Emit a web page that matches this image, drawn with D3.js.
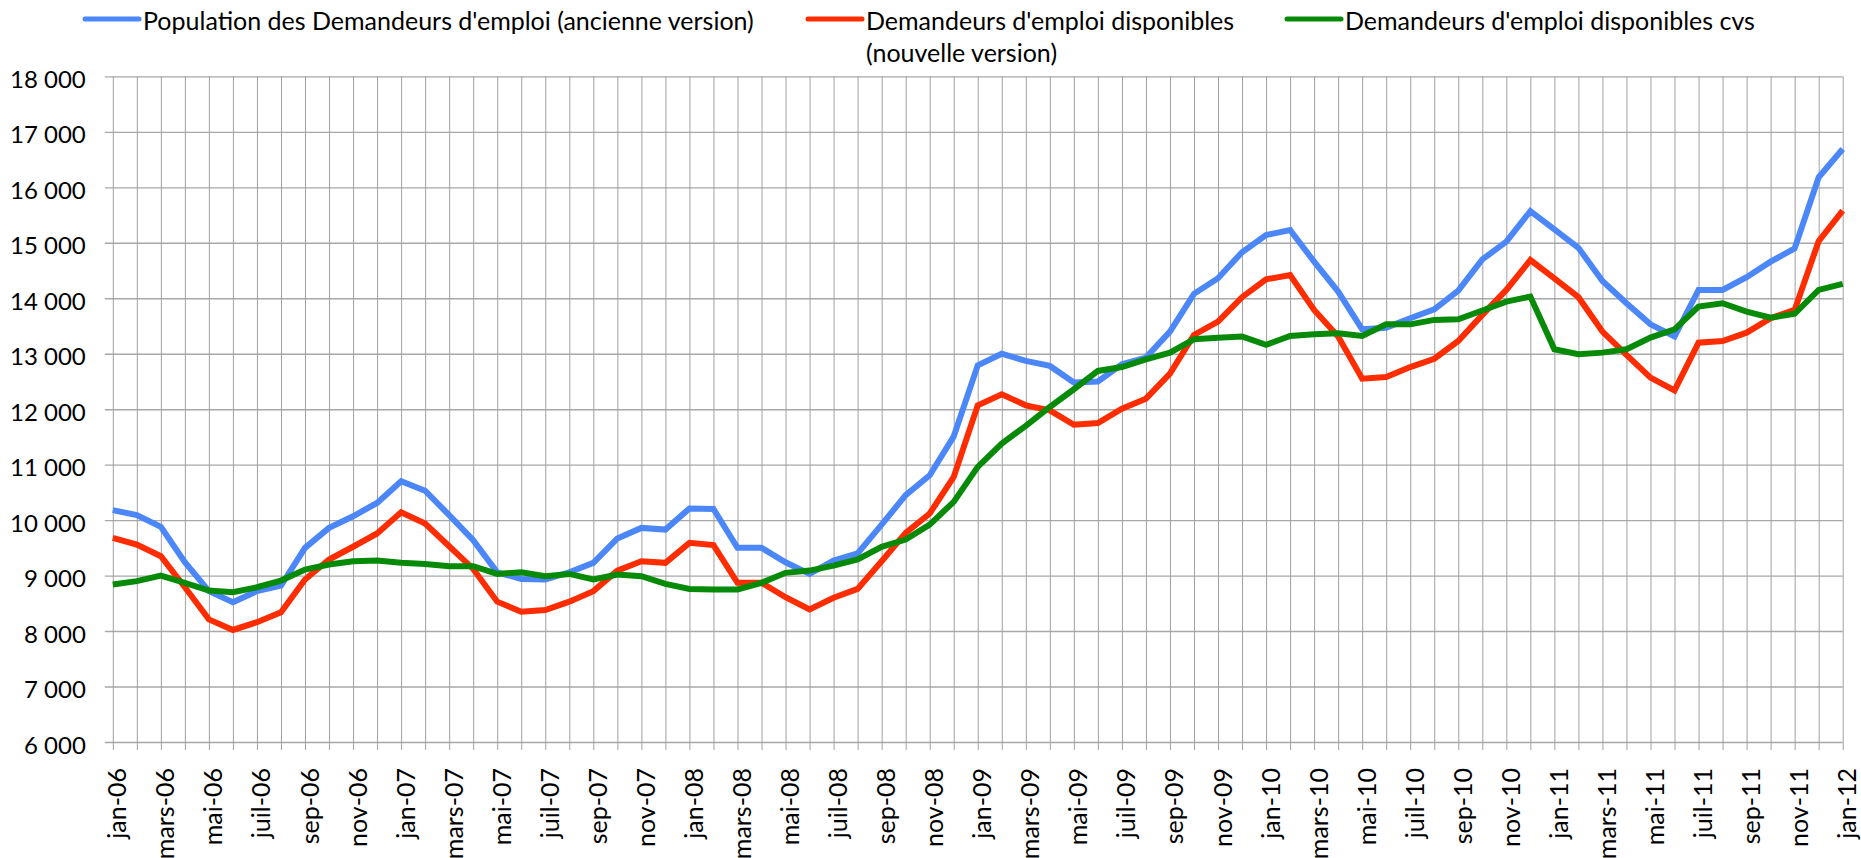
<!DOCTYPE html>
<html>
<head>
<meta charset="utf-8">
<script src="https://cdn.jsdelivr.net/npm/d3@7"></script>
<style>
    body { margin: 0; background: #fff; }
    svg { display: block; font-family: Lato, "Noto Sans", sans-serif; }
</style>
</head>
<body>
<svg id="chart"></svg>
<script>
// month labels (only every other one is printed on the axis)
const monthNames = ['jan', 'févr', 'mars', 'avr', 'mai', 'juin', 'juil', 'août', 'sep', 'oct', 'nov', 'déc'];
const years = ['06', '07', '08', '09', '10', '11', '12'];
const months = [];
years.forEach(y => monthNames.forEach(m => months.push(m + '-' + y)));
months.length = 73; // jan-06 .. jan-12

const yTicks = [6000, 7000, 8000, 9000, 10000, 11000, 12000, 13000, 14000, 15000, 16000, 17000, 18000];

const ancienne = [10180, 10090, 9880, 9240, 8720, 8520, 8720, 8820, 9500, 9860, 10070, 10310,
    10700, 10530, 10090, 9640, 9060, 8940, 8930, 9060, 9230, 9670, 9860, 9830,
    10210, 10200, 9500, 9500, 9240, 9030, 9270, 9400, 9920, 10450, 10810, 11510,
    12790, 13000, 12870, 12780, 12480, 12500, 12810, 12930, 13400, 14080, 14360, 14830,
    15140, 15230, 14660, 14120, 13440, 13470, 13640, 13800, 14140, 14700, 15020, 15570,
    15240, 14910, 14310, 13910, 13530, 13310, 14150, 14150, 14380, 14660, 14900, 16180,
    16690];
const nouvelle = [9680, 9560, 9350, 8790, 8210, 8020, 8160, 8340, 8930, 9290, 9520, 9760,
    10140, 9940, 9530, 9120, 8530, 8350, 8380, 8530, 8720, 9090, 9260, 9230,
    9590, 9550, 8870, 8870, 8610, 8390, 8600, 8760, 9260, 9770, 10120, 10780,
    12070, 12270, 12070, 11980, 11720, 11750, 12010, 12190, 12640, 13340, 13580, 14020,
    14340, 14420, 13790, 13310, 12550, 12580, 12760, 12910, 13230, 13700, 14150, 14690,
    14360, 14020, 13400, 12980, 12570, 12340, 13200, 13230, 13380, 13640, 13790, 15030,
    15580];
const cvs = [8840, 8900, 9000, 8870, 8730, 8700, 8790, 8910, 9110, 9200, 9260, 9270,
    9230, 9210, 9170, 9170, 9030, 9060, 8990, 9030, 8930, 9020, 8990, 8850,
    8760, 8750, 8750, 8870, 9050, 9090, 9180, 9290, 9520, 9650, 9920, 10330,
    10960, 11380, 11700, 12040, 12360, 12690, 12760, 12900, 13020, 13260, 13290, 13310,
    13160, 13320, 13350, 13370, 13320, 13530, 13530, 13610, 13620, 13780, 13940, 14030,
    13080, 12990, 13020, 13080, 13290, 13440, 13850, 13910, 13760, 13650, 13720, 14150,
    14260];

const seriesNames = [
    ["Population des Demandeurs d'emploi (ancienne version)"],
    ["Demandeurs d'emploi disponibles", "(nouvelle version)"],
    ["Demandeurs d'emploi disponibles cvs"]
];
const seriesColors = ['#4b87f8', '#ff2c00', '#078a07'];

const width = 1861, height = 858;
const plotLeft = 112.8, plotRight = 1842.7, plotTop = 76.4, plotBottom = 742;

const svg = d3.select('#chart').attr('width', width).attr('height', height);

const x = d3.scalePoint().domain(months).range([plotLeft, plotRight]);
const y = d3.scaleLinear().domain([6000, 18000]).range([plotBottom, plotTop]);

const fr = d3.formatLocale({decimal: ',', thousands: '\u00a0', grouping: [3], currency: ['', ' €']});

// y axis + horizontal grid
const yAxis = svg.append('g')
    .attr('transform', `translate(${plotLeft},0)`)
    .call(d3.axisLeft(y).tickValues(yTicks).tickFormat(fr.format(',')).tickSizeOuter(0).tickPadding(0));
yAxis.select('.domain').remove();
yAxis.selectAll('.tick line')
    .attr('x1', -8).attr('x2', plotRight - plotLeft)
    .attr('stroke', '#a8a8a8').attr('stroke-width', 1.4);
yAxis.selectAll('.tick text')
    .attr('x', -27).attr('dy', null).attr('y', 11)
    .attr('fill', '#000').attr('font-size', 24).attr('font-family', 'Lato');

// x axis + vertical grid
const xAxis = svg.append('g')
    .attr('transform', `translate(0,${plotBottom})`)
    .call(d3.axisBottom(x).tickSizeOuter(0));
xAxis.select('.domain').remove();
xAxis.selectAll('.tick line')
    .attr('y1', -(plotBottom - plotTop)).attr('y2', 8)
    .attr('stroke', '#a0a0a0').attr('stroke-width', 1);
xAxis.selectAll('.tick text')
    .text((d, i) => i % 2 === 0 ? d : '')
    .attr('transform', 'rotate(-90)')
    .attr('text-anchor', 'end')
    .attr('x', -26).attr('y', 13).attr('dy', null)
    .attr('fill', '#000').attr('font-size', 25).attr('font-family', 'Lato');

// lines
const line = d3.line()
    .x((d, i) => x(months[i]))
    .y(d => y(d));

svg.append('g')
    .selectAll('path')
    .data([ancienne, nouvelle, cvs])
    .join('path')
    .attr('d', line)
    .attr('fill', 'none')
    .attr('stroke', (d, i) => seriesColors[i])
    .attr('stroke-width', 6)
    .attr('stroke-linejoin', 'miter');

// legend
const legendX = [85, 808, 1287];
const legend = svg.append('g')
    .selectAll('g')
    .data(seriesNames)
    .join('g')
    .attr('transform', (d, i) => `translate(${legendX[i]},0)`);
legend.append('line')
    .attr('x1', 0).attr('x2', 54).attr('y1', 19).attr('y2', 19)
    .attr('stroke', (d, i) => seriesColors[i])
    .attr('stroke-width', 5).attr('stroke-linecap', 'round');
legend.append('text')
    .attr('x', 58).attr('y', 30)
    .attr('font-size', 25).attr('fill', '#000')
    .selectAll('tspan')
    .data(d => d)
    .join('tspan')
    .attr('x', 58)
    .attr('dy', (d, i) => i ? 32 : 0)
    .text(d => d);
</script>
</body>
</html>
